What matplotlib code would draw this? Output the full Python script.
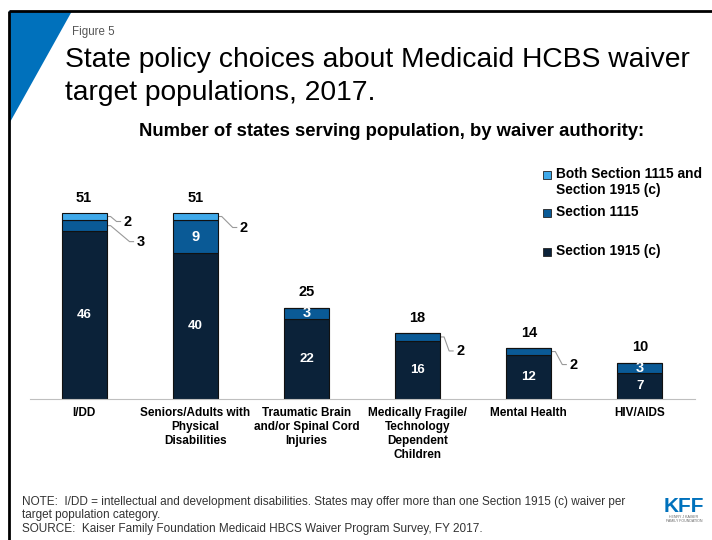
import numpy as np
import matplotlib.pyplot as plt
from matplotlib.patches import Polygon, Rectangle

plt.rcParams["font.family"] = ["Liberation Sans", "DejaVu Sans"]

# data
categories = ["I/DD", "Seniors/Adults with\nPhysical\nDisabilities",
              "Traumatic Brain\nand/or Spinal Cord\nInjuries",
              "Medically Fragile/\nTechnology\nDependent\nChildren",
              "Mental Health", "HIV/AIDS"]
sec_1915c = [46, 40, 22, 16, 12, 7]
sec_1115 = [3, 9, 3, 2, 2, 3]
both = [2, 2, 0, 0, 0, 0]
totals = [51, 51, 25, 18, 14, 10]
series_names = ["Section 1915 (c)", "Section 1115", "Both Section 1115 and\nSection 1915 (c)"]

NAVY = "#0b2239"
MID = "#0a5a96"
LIGHT = "#3fa9ea"
H = 540

fig = plt.figure(figsize=(7.12, 5.4), dpi=100)

# background layer in pixel coordinates
bg = fig.add_axes([0, 0, 1, 1])
bg.set_xlim(0, 712)
bg.set_ylim(H, 0)
bg.axis("off")
bg.add_patch(Polygon([(9, 11), (72, 11), (9, 124)], closed=True, color="#0071bc", lw=0))
bg.plot([9, 712], [11, 11], color="black", lw=2, solid_capstyle="butt")
bg.plot([9, 9], [11, H], color="black", lw=2, solid_capstyle="butt")

bg.text(72, 35, "Figure 5", fontsize=8.3, color="#555555", va="baseline", ha="left")
bg.text(65, 67, "State policy choices about Medicaid HCBS waiver",
        fontsize=20.3, color="black", va="baseline", ha="left")
bg.text(65, 100, "target populations, 2017.",
        fontsize=20.3, color="black", va="baseline", ha="left")
bg.text(392, 131, "Number of states serving population, by waiver authority:",
        fontsize=13.3, fontweight="bold", ha="center", va="center")

# legend drawn by hand
leg_items = [(175, LIGHT, series_names[2]), (213, MID, series_names[1]), (252, NAVY, series_names[0])]
for y, col, name in leg_items:
    bg.add_patch(Rectangle((543, y - 4), 8, 8, facecolor=col, edgecolor="#222222", lw=0.6))
    bg.text(556, y - 8, name, fontsize=9.9, fontweight="bold", va="top", ha="left", linespacing=1.2)

bg.text(22, 496, "NOTE:  I/DD = intellectual and development disabilities. States may offer more than one Section 1915 (c) waiver per\n"
        "target population category.\n"
        "SOURCE:  Kaiser Family Foundation Medicaid HBCS Waiver Program Survey, FY 2017.",
        fontsize=8.5, color="#333333", va="top", ha="left", linespacing=1.15)
bg.text(684, 506, "KFF", fontsize=15, fontweight="bold", color="#0071bc", ha="center", va="center")
bg.text(684, 519, "HENRY J KAISER\nFAMILY FOUNDATION", fontsize=2.6, color="#666666",
        ha="center", va="center", linespacing=1.1)

# chart
ax = fig.add_axes([30 / 712, 141 / H, 665 / 712, 219 / H])
ax.patch.set_alpha(0)
x = np.arange(len(categories))
w = 0.405
ax.bar(x, sec_1915c, w, color=NAVY, edgecolor="#111111", lw=0.8, label=series_names[0])
ax.bar(x, sec_1115, w, bottom=sec_1915c, color=MID, edgecolor="#111111", lw=0.8, label=series_names[1])
bot2 = np.array(sec_1915c) + np.array(sec_1115)
ax.bar(x, both, w, bottom=bot2, color=LIGHT, edgecolor="#111111", lw=0.8, label=series_names[2])

ax.set_xlim(-0.486, 5.495)
ax.set_ylim(0, 60)
for s in ["top", "right", "left"]:
    ax.spines[s].set_visible(False)
ax.spines["bottom"].set_color("#bfbfbf")
ax.set_yticks([])
ax.set_xticks(x)
ax.set_xticklabels(categories, fontsize=8.5, fontweight="bold", linespacing=1.2, va="top")
ax.tick_params(axis="x", length=0, pad=6)

# inside labels
for i, v in enumerate(sec_1915c):
    ax.text(x[i], v / 2, str(v), color="white", fontsize=9.5, fontweight="bold", ha="center", va="center")
inside_1115 = [1, 2, 5]
for i in inside_1115:
    ax.text(x[i], sec_1915c[i] + sec_1115[i] / 2, str(sec_1115[i]), color="white",
            fontsize=10.5, fontweight="bold", ha="center", va="center")

# callouts with leader lines: (category, segment values, bottoms, text offset in px)
callouts = [
    (0, both, bot2, (17, 5)),
    (0, sec_1115, sec_1915c, (30, 16)),
    (1, both, bot2, (22, 11)),
    (3, sec_1115, sec_1915c, (16, 14)),
    (4, sec_1115, sec_1915c, (18, 13)),
]
for i, vals, bots, (dx, dy) in callouts:
    ymid = bots[i] + vals[i] / 2
    dxp, dyp = ax.transData.transform((x[i] + w / 2, ymid))
    px, py = dxp, H - dyp
    tx, ty = px + dx, py + dy
    bg.plot([px, px + 4, tx - 7, tx - 3], [py, py, ty, ty], color="#999999", lw=0.8)
    bg.text(tx, ty, str(vals[i]), fontsize=10.5, fontweight="bold", ha="left", va="center")

# totals
for i, t in enumerate(totals):
    ax.annotate(str(t), xy=(x[i], t), xytext=(0, 6), textcoords="offset points",
                fontsize=10.5, fontweight="bold", ha="center", va="bottom")

fig.savefig("out.png", dpi=100)
